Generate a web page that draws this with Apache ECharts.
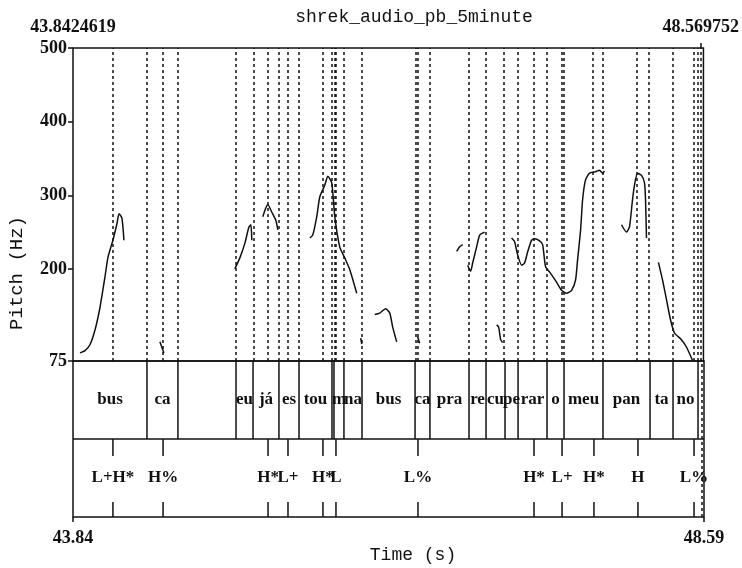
<!DOCTYPE html>
<html><head><meta charset="utf-8">
<script src="https://cdn.jsdelivr.net/npm/echarts@6/dist/echarts.min.js"></script>
<style>html,body{margin:0;padding:0;background:#fff}#c{width:742px;height:568px}</style>
</head><body><div id="c"></div>
<script>
const tStart = 43.8424619, tPitchEnd = 48.569752, tEnd = 48.59;
const yTicks = [75, 200, 300, 400, 500];
const topLabels = ['43.8424619', '48.569752'];
const bottomLabels = ['43.84', '48.59'];
const tier1Bounds = [44.399, 44.632, 45.069, 45.197, 45.392, 45.543, 45.791, 45.806, 45.881, 46.017, 46.416, 46.528, 46.822, 46.950, 47.093, 47.191, 47.409, 47.537, 47.830, 48.184, 48.357, 48.545];
const tier1Words = ['bus', 'ca', '', 'eu', 'já', 'es', 'tou', '', 'm', 'na', 'bus', 'ca', 'pra', 're', 'cu', 'pe', 'rar', 'o', 'meu', 'pan', 'ta', 'no', ''];
const tier2Times = [44.143, 44.520, 45.310, 45.460, 45.723, 45.821, 46.438, 47.311, 47.522, 47.762, 48.093, 48.515];
const tier2Labels = ['L+H*', 'H%', 'H*', 'L+', 'H*', 'L', 'L%', 'H*', 'L+', 'H*', 'H', 'L%'];
const pitchSegments = [
  [[43.895,86],[43.933,89],[43.970,97],[44.008,117],[44.046,148],[44.083,189],[44.106,216],[44.143,239],[44.174,262],[44.189,275],[44.211,269],[44.226,239]],
  [[44.497,101],[44.527,86]],
  [[45.061,200],[45.099,215],[45.137,235],[45.167,257],[45.182,260],[45.189,239]],
  [[45.272,271],[45.295,283],[45.310,287],[45.340,277],[45.370,266],[45.385,253]],
  [[45.626,242],[45.648,246],[45.678,271],[45.701,298],[45.739,314],[45.761,326],[45.791,317],[45.814,271],[45.851,230],[45.889,215],[45.927,199],[45.979,167]],
  [[46.009,106],[46.017,98]],
  [[46.115,138],[46.152,140],[46.197,146],[46.228,140],[46.250,121],[46.280,101]],
  [[46.438,108],[46.453,99]],
  [[46.732,224],[46.754,230],[46.777,233]],
  [[46.814,205],[46.837,197],[46.852,208],[46.882,230],[46.905,246],[46.942,250]],
  [[47.033,124],[47.048,121],[47.063,104],[47.078,100]],
  [[47.145,242],[47.168,237],[47.191,219],[47.221,205],[47.243,208],[47.266,223],[47.296,239],[47.319,241],[47.356,238],[47.379,233],[47.401,203],[47.431,196],[47.484,182],[47.522,171],[47.559,167],[47.597,171],[47.627,185],[47.642,212],[47.665,253],[47.680,294],[47.702,321],[47.732,330],[47.777,332],[47.808,334],[47.830,330],[47.845,333]],
  [[47.973,260],[48.011,250],[48.033,257],[48.056,294],[48.071,314],[48.093,330],[48.124,327],[48.146,317],[48.154,294],[48.161,242]],
  [[48.251,209],[48.282,185],[48.312,158],[48.342,131],[48.372,113],[48.424,104],[48.462,94],[48.507,76]]
];

const INK = '#111';
const serifBold = 'bold 17px "Liberation Serif", "DejaVu Serif", serif';
const edges = [tStart].concat(tier1Bounds, [tEnd]);
const intervals = tier1Words.map((w, i) => [edges[i], edges[i + 1], i]);
const dashedTimes = tier1Bounds.concat(tier2Times, [tPitchEnd]);

const chart = echarts.init(document.getElementById('c'), null, {renderer: 'canvas'});

const pitchSeries = pitchSegments.map((seg, i) => ({
  type: 'line', xAxisIndex: 0, yAxisIndex: 0, data: seg, showSymbol: false, smooth: 0.2,
  lineStyle: {color: INK, width: 1.5}, silent: true, z: 3,
  markLine: i === 0 ? {
    silent: true, symbol: 'none', label: {show: false},
    lineStyle: {color: INK, width: 1.5, type: [3, 3]},
    data: dashedTimes.map(t => ({xAxis: t}))
  } : undefined
}));

const option = {
  animation: false,
  backgroundColor: '#fff',
  title: {
    text: 'shrek_audio_pb_5minute', left: 409, top: 3, textAlign: 'center',
    textStyle: {fontFamily: '"Liberation Mono", "DejaVu Sans Mono", monospace', fontWeight: 'normal', fontSize: 18, color: INK}
  },
  grid: [
    {left: 73, right: 38, top: 48, height: 313, show: true, borderColor: INK, borderWidth: 1.5, backgroundColor: 'transparent'},
    {left: 73, right: 38, top: 361, height: 156, show: true, borderColor: INK, borderWidth: 1.5, backgroundColor: 'transparent'}
  ],
  xAxis: [
    {gridIndex: 0, type: 'value', position: 'top', min: tStart, max: tEnd,
     axisLine: {show: false}, splitLine: {show: false},
     axisTick: {show: true, customValues: [tPitchEnd], length: 5, lineStyle: {color: INK, width: 1.5}},
     axisLabel: {show: true, customValues: [tStart, tPitchEnd], margin: 12,
       formatter: v => Math.abs(v - tStart) < 1e-6 ? topLabels[0] : topLabels[1],
       fontFamily: '"Liberation Serif", serif', fontWeight: 'bold', fontSize: 18, color: INK}},
    {gridIndex: 1, type: 'value', position: 'bottom', min: tStart, max: tEnd,
     axisLine: {show: false}, splitLine: {show: false},
     axisTick: {show: true, customValues: [tStart, tEnd], length: 5, lineStyle: {color: INK, width: 1.5}},
     axisLabel: {show: true, customValues: [tStart, tEnd], margin: 12,
       formatter: v => Math.abs(v - tStart) < 1e-6 ? bottomLabels[0] : bottomLabels[1],
       fontFamily: '"Liberation Serif", serif', fontWeight: 'bold', fontSize: 18, color: INK}}
  ],
  yAxis: [
    {gridIndex: 0, type: 'value', min: 75, max: 500,
     axisLine: {show: false}, splitLine: {show: false},
     axisTick: {show: true, customValues: yTicks, length: 5, lineStyle: {color: INK, width: 1.5}},
     axisLabel: {show: true, customValues: yTicks, margin: 6,
       fontFamily: '"Liberation Serif", serif', fontWeight: 'bold', fontSize: 18, color: INK}},
    {gridIndex: 1, type: 'value', min: 0, max: 2, show: false}
  ],
  graphic: [
    {type: 'text', x: 17, y: 273, rotation: Math.PI / 2,
     style: {text: 'Pitch (Hz)', font: '19px "Liberation Mono", monospace', fill: INK, align: 'center', verticalAlign: 'middle'}},
    {type: 'text', x: 413, y: 555,
     style: {text: 'Time (s)', font: '18px "Liberation Mono", monospace', fill: INK, align: 'center', verticalAlign: 'middle'}}
  ],
  series: pitchSeries.concat([
    {
      type: 'custom', xAxisIndex: 1, yAxisIndex: 1, silent: true, z: 4,
      data: [[tStart]],
      renderItem: (params, api) => {
        const a = api.coord([tStart, 1]);
        const b = api.coord([tEnd, 1]);
        return {type: 'line', shape: {x1: a[0], y1: a[1], x2: b[0], y2: b[1]}, style: {stroke: INK, lineWidth: 1.5}};
      }
    },
    {
      type: 'custom', xAxisIndex: 1, yAxisIndex: 1, silent: true, z: 4,
      data: tier1Bounds.map(t => [t]),
      renderItem: (params, api) => {
        const a = api.coord([api.value(0), 2]);
        const b = api.coord([api.value(0), 1]);
        return {type: 'line', shape: {x1: a[0], y1: a[1], x2: b[0], y2: b[1]}, style: {stroke: INK, lineWidth: 1.5}};
      }
    },
    {
      type: 'custom', xAxisIndex: 1, yAxisIndex: 1, silent: true, z: 5,
      data: intervals,
      renderItem: (params, api) => {
        const i = api.value(2);
        const p = api.coord([(api.value(0) + api.value(1)) / 2, 1.5]);
        return {type: 'text', x: p[0], y: p[1],
          style: {text: tier1Words[i], font: serifBold, fill: INK, align: 'center', verticalAlign: 'middle'}};
      }
    },
    {
      type: 'custom', xAxisIndex: 1, yAxisIndex: 1, silent: true, z: 5,
      data: tier2Times.map((t, i) => [t, i]),
      renderItem: (params, api) => {
        const t = api.value(0), i = api.value(1);
        const top = api.coord([t, 1]);
        const bot = api.coord([t, 0]);
        const mid = api.coord([t, 0.5]);
        return {type: 'group', children: [
          {type: 'line', shape: {x1: top[0], y1: top[1], x2: top[0], y2: top[1] + 17}, style: {stroke: INK, lineWidth: 1.5}},
          {type: 'line', shape: {x1: bot[0], y1: bot[1], x2: bot[0], y2: bot[1] - 15}, style: {stroke: INK, lineWidth: 1.5}},
          {type: 'text', x: mid[0], y: mid[1],
           style: {text: tier2Labels[i], font: serifBold, fill: INK, align: 'center', verticalAlign: 'middle'}}
        ]};
      }
    },
    {
      type: 'line', xAxisIndex: 1, yAxisIndex: 1, data: [], silent: true,
      markLine: {silent: true, symbol: 'none', label: {show: false},
        lineStyle: {color: INK, width: 1.5, type: [3, 3]}, data: [{xAxis: tPitchEnd}]}
    }
  ])
};
chart.setOption(option);
</script>
</body></html>
